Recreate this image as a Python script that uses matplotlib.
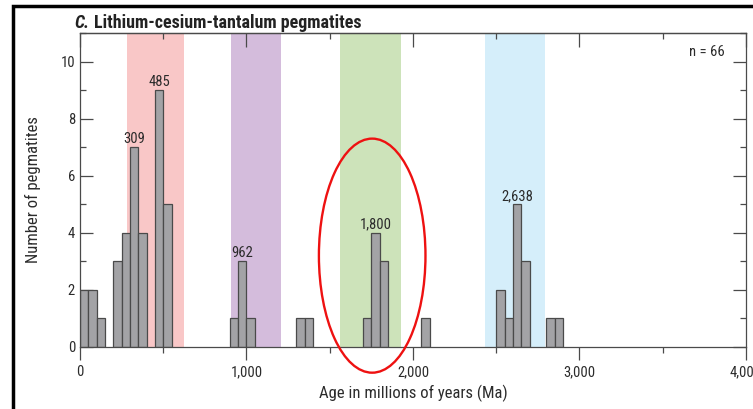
import matplotlib
matplotlib.use("Agg")
import matplotlib.pyplot as plt
from matplotlib.patches import Ellipse, Rectangle
from matplotlib.ticker import MultipleLocator, FuncFormatter

plt.rcParams['font.family'] = ['Liberation Sans Narrow', 'DejaVu Sans Condensed',
                               'Roboto Condensed', 'Liberation Sans']

# histogram bins (left edge, Ma) and counts, 50 Ma wide
bin_left = [0, 50, 100, 200, 250, 300, 350, 450, 500, 900, 950, 1000,
            1300, 1350, 1700, 1750, 1800, 2050, 2500, 2550, 2600, 2650,
            2800, 2850]
counts = [2, 2, 1, 3, 4, 7, 4, 9, 5, 1, 3, 1,
          1, 1, 1, 4, 3, 1, 2, 1, 5, 3,
          1, 1]
bin_width = 50

# labelled peaks: age text and the bin it sits on
peak_labels = ['309', '485', '962', '1,800', '2,638']
peak_bins = [300, 450, 950, 1750, 2600]

# supercontinent bands (Ma)
band_start = [280, 905, 1560, 2435]
band_end = [625, 1205, 1930, 2795]
band_colors = ['#f9c7c7', '#d4bcdc', '#cde3ba', '#d5eefa']

n_total = sum(counts)
dark = '#2b2b2b'
axis_col = '#4a4a4a'

fig = plt.figure(figsize=(7.53, 4.09), dpi=100)
ax = fig.add_axes([0.1062, 0.1516, 0.8845, 0.7677])

for s, e, c in zip(band_start, band_end, band_colors):
    ax.axvspan(s, e, color=c, lw=0, zorder=0)

ax.bar(bin_left, counts, width=bin_width, align='edge', color='#a3a3a6',
       edgecolor='#4a4a4a', linewidth=0.9, zorder=2)

for lab, b in zip(peak_labels, peak_bins):
    h = counts[bin_left.index(b)]
    ax.annotate(lab, (b + bin_width / 2, h), xytext=(0, 1),
                textcoords='offset points', ha='center', va='bottom',
                fontsize=10.5, color=dark, zorder=3)

ax.text(3870, 10.35, 'n = %d' % n_total, ha='right', va='center',
        fontsize=10.5, color=dark)

# red highlight ellipse around the 1,800 Ma peak
ell = Ellipse((1755, 3.2), 640, 8.2, fill=False, edgecolor='#ee1111',
              linewidth=1.7, clip_on=False, zorder=4)
ax.add_patch(ell)

ax.set_xlim(0, 4000)
ax.set_ylim(0, 11)
ax.xaxis.set_major_locator(MultipleLocator(1000))
ax.xaxis.set_minor_locator(MultipleLocator(500))
ax.yaxis.set_major_locator(MultipleLocator(2))
ax.yaxis.set_minor_locator(MultipleLocator(1))
ax.xaxis.set_major_formatter(FuncFormatter(lambda v, p: '{:,.0f}'.format(v)))

ax.tick_params(which='both', right=True, colors=axis_col,
               labelcolor=dark, labelsize=10.5, width=0.9)
ax.tick_params(axis='y', which='both', direction='in')
ax.tick_params(axis='x', which='both', direction='out')
ax.tick_params(which='major', length=9.5)
ax.tick_params(which='minor', length=4.5)

# top ticks point inward
top = ax.secondary_xaxis('top')
top.xaxis.set_major_locator(MultipleLocator(1000))
top.xaxis.set_minor_locator(MultipleLocator(500))
top.tick_params(which='both', direction='in', labeltop=False, colors=axis_col,
                width=0.9)
top.tick_params(which='major', length=10)
top.tick_params(which='minor', length=4.5)
top.spines['top'].set_color(axis_col)
top.spines['top'].set_linewidth(0.9)

for sp in ax.spines.values():
    sp.set_color(axis_col)
    sp.set_linewidth(0.9)

ax.set_xlabel('Age in millions of years (Ma)', fontsize=12, color=dark,
              labelpad=4)
ax.set_ylabel('Number of pegmatites', fontsize=12, color=dark,
              labelpad=14)

# title
t1 = fig.text(0.099, 0.944, 'C.', fontsize=13, fontweight='bold', style='italic',
              va='center', color='#222222')
fig.add_artist(matplotlib.text.Annotation(
    'Lithium-cesium-tantalum pegmatites', xy=(1, 0.5), xycoords=t1,
    xytext=(3, 0), textcoords='offset points', va='center', fontsize=13,
    fontweight='bold', color='#222222'))

# outer frame
fig.patches.append(Rectangle((0.0175, -0.2), 1.2, 1.186, transform=fig.transFigure,
                             fill=False, edgecolor='black', linewidth=2.5))

fig.savefig('out.png', dpi=100)
